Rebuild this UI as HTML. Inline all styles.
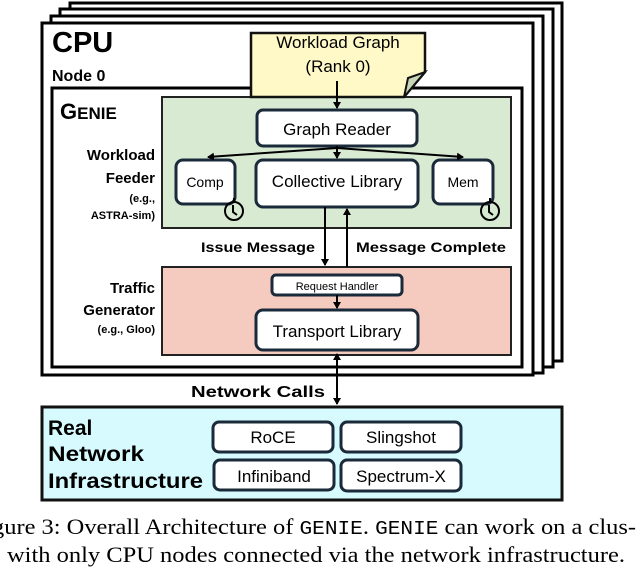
<!DOCTYPE html>
<html><head><meta charset="utf-8"><style>
body{margin:0;background:#fff;width:638px;height:572px;overflow:hidden}
svg{display:block}
text{font-family:"Liberation Sans",sans-serif}
</style></head><body>
<svg width="638" height="572" viewBox="0 0 638 572" xmlns="http://www.w3.org/2000/svg">
<defs>
<marker id="a" markerWidth="8" markerHeight="8" refX="6" refY="4" orient="auto" markerUnits="userSpaceOnUse"><path d="M0,0 L7,4 L0,8 z" fill="#000"/></marker>
<marker id="b" markerWidth="8" markerHeight="8" refX="1" refY="4" orient="auto" markerUnits="userSpaceOnUse"><path d="M7,0 L0,4 L7,8 z" fill="#000"/></marker>
</defs>
<g fill="#fff" stroke="#000" stroke-width="3">
<rect x="70" y="3" width="492" height="358"/>
<rect x="60" y="9" width="493" height="358"/>
<rect x="51" y="16" width="492" height="357"/>
<rect x="42" y="23" width="491" height="352"/>
<rect x="52" y="88" width="470" height="279"/>
</g>
<rect x="162" y="97" width="349" height="131" fill="#d9ead3" stroke="#222" stroke-width="2"/>
<rect x="162" y="267" width="349" height="88" fill="#f5cbbf" stroke="#222" stroke-width="2"/>
<rect x="42" y="407" width="520" height="93" fill="#d6fafd" stroke="#111" stroke-width="3"/>
<path d="M251,33 H425 V72 L404,97 H251 Z" fill="#fff9c8" stroke="#111" stroke-width="2.5"/>
<path d="M425,72 L404,97 L408,78 Z" fill="#c9d7b8" stroke="#111" stroke-width="2"/>
<text x="52" y="52" font-size="29" font-weight="bold">CPU</text>
<text x="52" y="81" font-size="16" font-weight="bold">Node 0</text>
<text x="60" y="119" font-size="22" font-weight="bold">G<tspan font-size="17">ENIE</tspan></text>
<text x="338" y="48" font-size="17" text-anchor="middle">Workload Graph</text>
<text x="338" y="72" font-size="17" text-anchor="middle">(Rank 0)</text>
<g font-weight="bold" text-anchor="end">
<text x="155" y="160" font-size="15">Workload</text>
<text x="155" y="183" font-size="15">Feeder</text>
<text x="155" y="202" font-size="11">(e.g.,</text>
<text x="155" y="219" font-size="11">ASTRA-sim)</text>
<text x="155" y="293" font-size="15">Traffic</text>
<text x="155" y="315" font-size="15">Generator</text>
<text x="155" y="333" font-size="11">(e.g., Gloo)</text>
</g>
<g fill="#fff" stroke="#1a2a3a" stroke-width="3">
<rect x="257" y="110" width="160" height="36" rx="6"/>
<rect x="176" y="160" width="59" height="44" rx="7"/>
<rect x="256" y="160" width="162" height="47" rx="7"/>
<rect x="433" y="160" width="60" height="44" rx="7"/>
<rect x="272" y="275" width="130" height="20" rx="4"/>
<rect x="256" y="310" width="162" height="40" rx="7"/>
<rect x="213" y="422" width="120" height="30" rx="6"/>
<rect x="341" y="422" width="120" height="30" rx="6"/>
<rect x="214" y="460" width="120" height="30" rx="6"/>
<rect x="341" y="460" width="120" height="31" rx="6"/>
</g>
<g text-anchor="middle" font-size="17">
<text x="337" y="135">Graph Reader</text>
<text x="205" y="187" font-size="14">Comp</text>
<text x="337" y="187">Collective Library</text>
<text x="463" y="187" font-size="14">Mem</text>
<text x="337" y="290" font-size="11">Request Handler</text>
<text x="337" y="337">Transport Library</text>
<text x="273" y="443">RoCE</text>
<text x="401" y="443">Slingshot</text>
<text x="274" y="482">Infiniband</text>
<text x="401" y="482">Spectrum-X</text>
</g>
<g stroke="#000" stroke-width="2" fill="none">
<line x1="337" y1="97" x2="337" y2="108" marker-end="url(#a)"/>
<line x1="337" y1="81" x2="337" y2="97"/>
<line x1="337" y1="146" x2="337" y2="158" marker-end="url(#a)"/>
<line x1="337" y1="148" x2="208" y2="157" marker-end="url(#a)"/>
<line x1="337" y1="148" x2="463" y2="157" marker-end="url(#a)"/>
<line x1="325" y1="207" x2="325" y2="265" marker-end="url(#a)"/>
<line x1="347" y1="267" x2="347" y2="209" marker-end="url(#a)"/>
<line x1="337" y1="295" x2="337" y2="308" marker-end="url(#a)"/>
<line x1="337" y1="354" x2="337" y2="404" marker-start="url(#b)" marker-end="url(#a)"/>
<line x1="234" y1="198" x2="234" y2="202"/>
<line x1="490" y1="198" x2="490" y2="202"/>
<circle cx="234" cy="211" r="9"/>
<circle cx="490" cy="211" r="9"/>
<path d="M233,205 V212 L237,215"/>
<path d="M489,205 V212 L493,215"/>
</g>
<g font-weight="bold" font-size="14">
<text x="201" y="252" textLength="114" lengthAdjust="spacingAndGlyphs">Issue Message</text>
<text x="356" y="252" textLength="150" lengthAdjust="spacingAndGlyphs">Message Complete</text>
<text x="191" y="397" font-size="16" textLength="134" lengthAdjust="spacingAndGlyphs">Network Calls</text>
</g>
<g font-weight="bold" font-size="21">
<text x="48" y="435">Real</text>
<text x="48" y="461" textLength="96" lengthAdjust="spacingAndGlyphs">Network</text>
<text x="48" y="488" textLength="155" lengthAdjust="spacingAndGlyphs">Infrastructure</text>
</g>
<g font-size="22">
<text x="-8" y="534" textLength="644" lengthAdjust="spacingAndGlyphs" style="font-family:'Liberation Serif',serif">gure 3: Overall Architecture of <tspan style="font-family:'Liberation Mono',monospace" font-size="19">GENIE</tspan>. <tspan style="font-family:'Liberation Mono',monospace" font-size="19">GENIE</tspan> can work on a clus-</text>
<text x="7" y="562" textLength="618" lengthAdjust="spacingAndGlyphs" style="font-family:'Liberation Serif',serif">with only CPU nodes connected via the network infrastructure.</text>
</g>
</svg>
</body></html>
